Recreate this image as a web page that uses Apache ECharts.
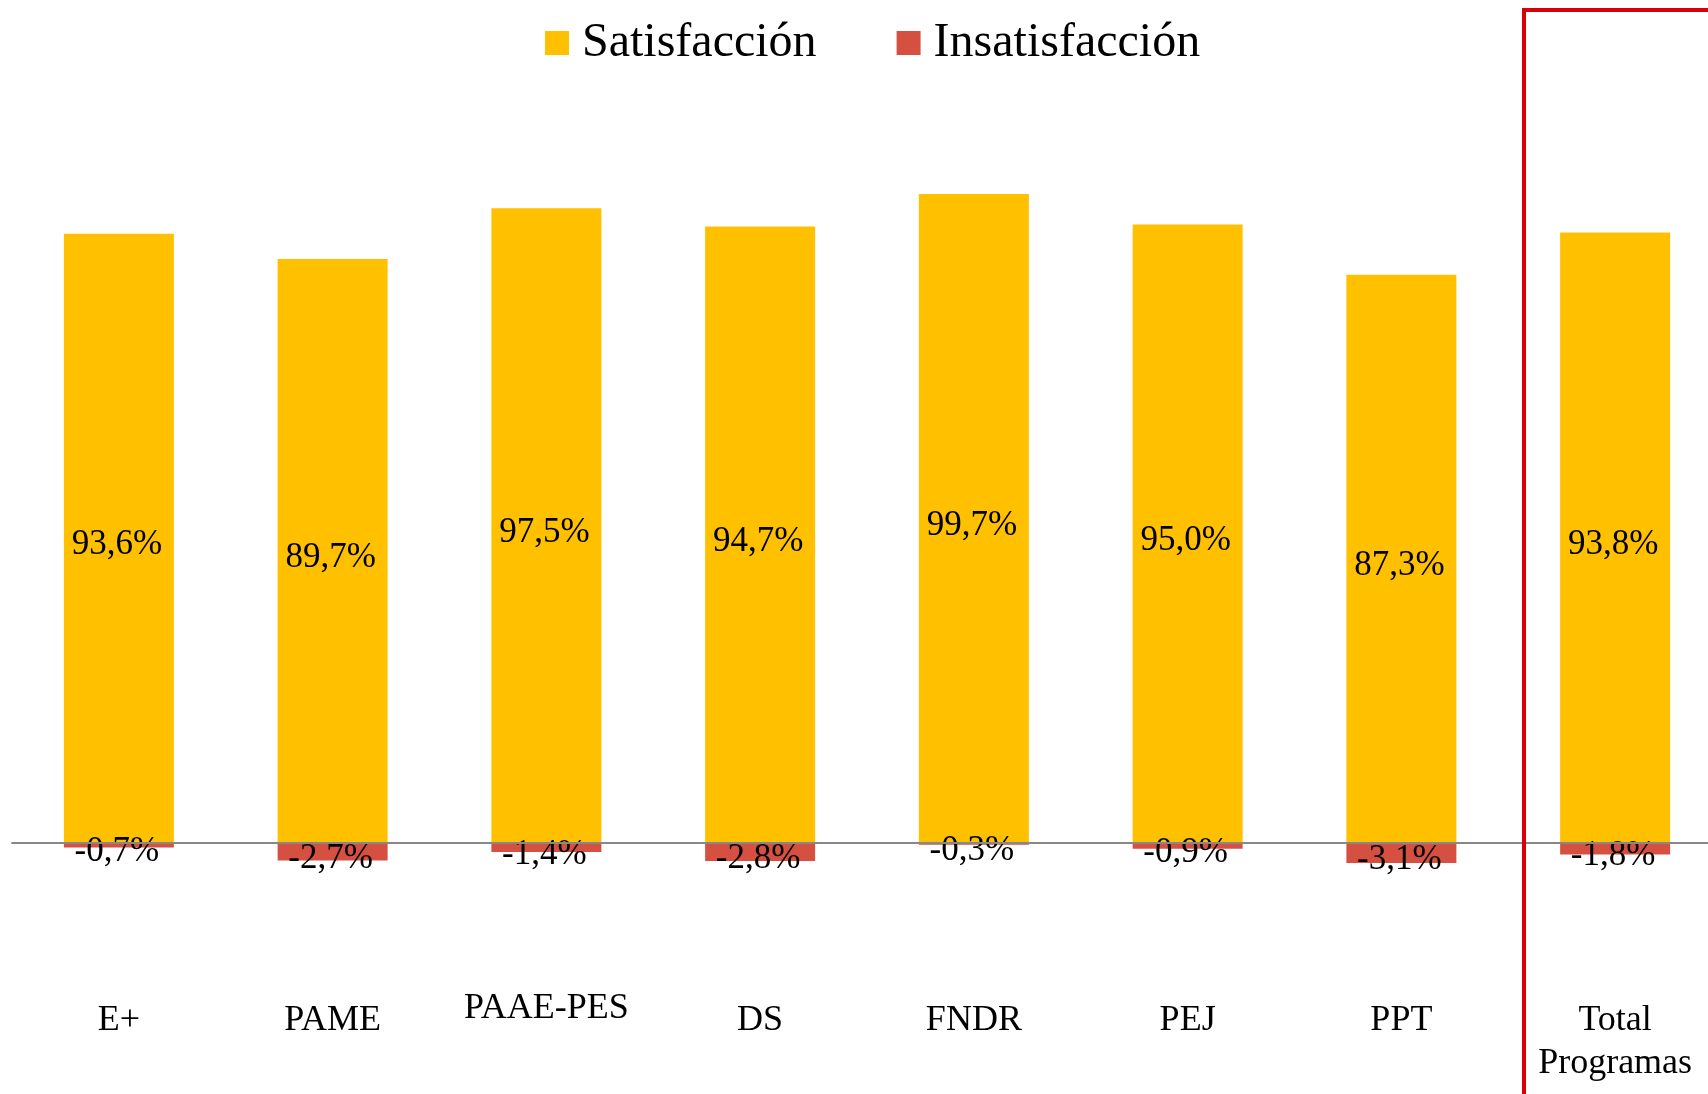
<!DOCTYPE html>
<html>
<head>
<meta charset="utf-8">
<script src="https://cdn.jsdelivr.net/npm/echarts@6/dist/echarts.min.js"></script>
<style>
  html, body { margin: 0; padding: 0; background: #fff; }
  #chart { width: 1708px; height: 1094px; }
</style>
</head>
<body>
<div id="chart"></div>
<script>
// datos del gráfico
var programas = ['E+', 'PAME', 'PAAE-PES', 'DS', 'FNDR', 'PEJ', 'PPT', 'Total\nProgramas'];
var satisfaccion = [93.6, 89.7, 97.5, 94.7, 99.7, 95.0, 87.3, 93.8];
var insatisfaccion = [-0.7, -2.7, -1.4, -2.8, -0.3, -0.9, -3.1, -1.8];

var fuente = "'Liberation Serif', 'Times New Roman', serif";

function pct(v) {
  return v.toFixed(1).replace('.', ',') + '%';
}

var chart = echarts.init(document.getElementById('chart'));

var option = {
  backgroundColor: '#fff',
  animation: false,
  legend: {
    left: 540,
    top: 14,
    itemWidth: 24,
    itemHeight: 24,
    itemGap: 80,
    icon: 'rect',
    textStyle: {
      fontFamily: fuente,
      fontSize: 48,
      color: '#000',
      padding: [0, 0, 0, 8]
    },
    data: ['Satisfacción', 'Insatisfacción']
  },
  grid: {
    left: 12,
    width: 1710,
    top: 127,
    bottom: 121,
    outerBoundsMode: 'none'
  },
  xAxis: {
    type: 'category',
    z: 5,
    data: programas.map(function (p) {
      // PAAE-PES aparece un poco más arriba en el original
      return p === 'PAAE-PES'
        ? { value: p, textStyle: { padding: [0, 0, 0, 0] } }
        : p;
    }),
    axisLine: { onZero: true, lineStyle: { color: '#888', width: 2 } },
    axisTick: { show: false },
    axisLabel: {
      interval: 0,
      margin: 14,
      fontFamily: fuente,
      fontSize: 36,
      lineHeight: 43,
      color: '#000',
      padding: [12, 0, 0, 0]
    }
  },
  yAxis: {
    type: 'value',
    min: -20,
    max: 110,
    show: false,
    splitLine: { show: false }
  },
  series: [
    {
      name: 'Satisfacción',
      type: 'bar',
      stack: 'total',
      barWidth: 110,
      itemStyle: { color: '#FFC000' },
      label: {
        show: true,
        position: 'inside',
        offset: [-2, 7],
        fontFamily: fuente,
        fontSize: 35,
        color: '#000',
        formatter: function (p) { return pct(p.value); }
      },
      data: satisfaccion
    },
    {
      name: 'Insatisfacción',
      type: 'bar',
      stack: 'total',
      barWidth: 110,
      itemStyle: { color: '#D65042' },
      label: {
        show: true,
        position: 'inside',
        offset: [-2, 7],
        fontFamily: fuente,
        fontSize: 35,
        color: '#000',
        formatter: function (p) { return pct(p.value); }
      },
      data: insatisfaccion
    }
  ],
  graphic: [
    {
      type: 'rect',
      z: 100,
      shape: { x: 1524, y: 10, width: 400, height: 1200 },
      style: { fill: null, stroke: '#D9000D', lineWidth: 4 }
    }
  ]
};

chart.setOption(option);
</script>
</body>
</html>
